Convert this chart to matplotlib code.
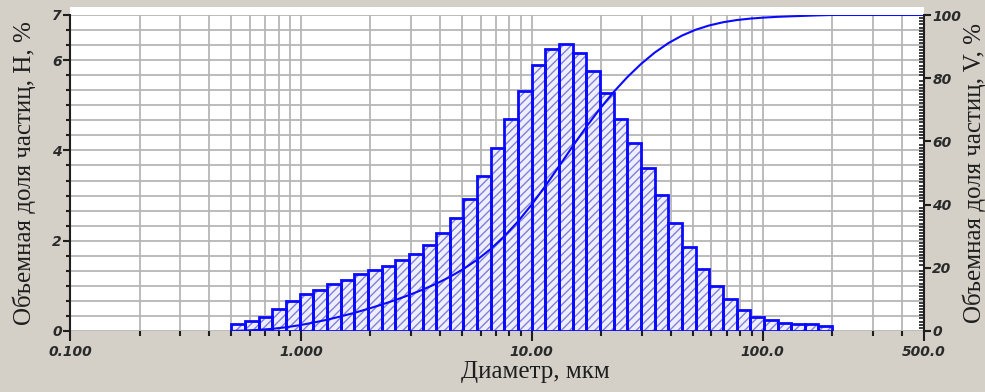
import numpy as np
import matplotlib.pyplot as plt
from matplotlib.patches import Rectangle

# Дифференциальное распределение частиц по размерам (доля, %) в 44 логарифмических интервалах
d_min, d_max = 0.5, 200.0
fractions = [0.15, 0.22, 0.32, 0.49, 0.66, 0.81, 0.91, 1.05, 1.13, 1.26,
             1.35, 1.45, 1.57, 1.71, 1.90, 2.16, 2.51, 2.92, 3.44, 4.05,
             4.69, 5.32, 5.89, 6.24, 6.35, 6.15, 5.77, 5.27, 4.70, 4.16,
             3.60, 3.01, 2.39, 1.85, 1.37, 1.00, 0.70, 0.47, 0.32, 0.24,
             0.17, 0.15, 0.15, 0.11]

x_ticks = [0.1, 1, 10, 100, 500]
x_labels = ["0.100", "1.000", "10.00", "100.0", "500.0"]
h_ticks = [0, 2, 4, 6, 7]
v_ticks = [0, 20, 40, 60, 80, 100]

BG = "#d4d0c8"
BLUE = "#0a0aff"
HATCH = "#8080d4"
GRID = "#b6b6b6"
DARK = "#1e1e1e"

edges = np.geomspace(d_min, d_max, len(fractions) + 1)
widths = np.diff(edges)
cum = np.cumsum(fractions) / np.sum(fractions) * 100

fig = plt.figure(figsize=(9.85, 3.92), dpi=100, facecolor=BG)
W, H = 985, 392
x0, x1, y_top, y_bot = 70, 924, 15, 331
ax = fig.add_axes([x0 / W, (H - y_bot) / H, (x1 - x0) / W, (y_bot - y_top) / H])
fig.add_artist(Rectangle((x0 / W, (H - y_bot) / H), (x1 - x0) / W, (y_bot - 7) / H,
                         transform=fig.transFigure, facecolor="white",
                         edgecolor="none", zorder=-1))

ax.set_xscale("log")
ax.set_xlim(0.1, 500)
ax.set_ylim(0, 7)
ax.set_axisbelow(True)

# штриховка отдельно от контура, чтобы линии штриховки были светлее
ax.bar(edges[:-1], fractions, width=widths, align="edge", facecolor="#eeeeff",
       edgecolor=HATCH, hatch="////", linewidth=0)
ax.bar(edges[:-1], fractions, width=widths, align="edge", fill=False,
       edgecolor=BLUE, linewidth=2.0)

minor_x = [m * 10.0 ** e for e in (-1, 0, 1) for m in range(2, 10)] + [200, 300, 400]
ax.set_xticks(x_ticks)
ax.set_xticklabels(x_labels)
ax.set_xticks(minor_x, minor=True)
ax.set_xticklabels([], minor=True)
ax.set_yticks(h_ticks)
ax.set_yticks(np.arange(22) / 3, minor=True)

ax.grid(True, which="both", color=GRID, linewidth=1.3)
for s in ("top", "right", "bottom"):
    ax.spines[s].set_visible(False)
ax.spines["left"].set_color(DARK)
ax.spines["left"].set_linewidth(1.5)
ax.tick_params(axis="x", which="major", length=7, width=1.5, color=DARK, pad=3)
ax.tick_params(axis="x", which="minor", length=3.5, width=1.5, color=DARK)
ax.tick_params(axis="y", which="major", length=5, width=1.5, color=DARK, pad=1)
ax.tick_params(axis="y", which="minor", length=3, width=1.5, color=DARK)

tick_font = dict(family="DejaVu Sans", style="italic", weight="bold", size=10, color="#2a2a2a")
for lab in ax.get_xticklabels() + ax.get_yticklabels():
    lab.set(**tick_font)

# интегральная кривая на правой оси
ax2 = ax.twinx()
ax2.set_ylim(0, 100)
ax2.set_xlim(0.1, 500)
ax2.plot(np.concatenate([[edges[0]], edges[1:], [500]]),
         np.concatenate([[0], cum, [cum[-1]]]), color=BLUE, linewidth=1.5)
ax2.set_yticks(v_ticks)
ax2.set_yticks(np.arange(101), minor=True)
for s in ("top", "left", "bottom"):
    ax2.spines[s].set_visible(False)
ax2.spines["right"].set_color(DARK)
ax2.spines["right"].set_linewidth(1.5)
ax2.tick_params(axis="y", which="major", length=5, width=1.5, color=DARK, pad=1)
ax2.tick_params(axis="y", which="minor", direction="in", length=3.5, width=1.2, color=DARK)
for lab in ax2.get_yticklabels():
    lab.set(**tick_font)

label_font = dict(family="Liberation Serif", size=18, color=DARK)
fig.text(24 / W, 1 - 173 / H, "Объемная доля частиц, Н, %", rotation=90,
         ha="center", va="center", **label_font)
fig.text(974 / W, 1 - 173 / H, "Объемная доля частиц, V, %", rotation=90,
         ha="center", va="center", **label_font)
fig.text(535 / W, 1 - 372 / H, "Диаметр, мкм", ha="center", va="center", **label_font)

fig.savefig("out.png", dpi=100, facecolor=BG)
